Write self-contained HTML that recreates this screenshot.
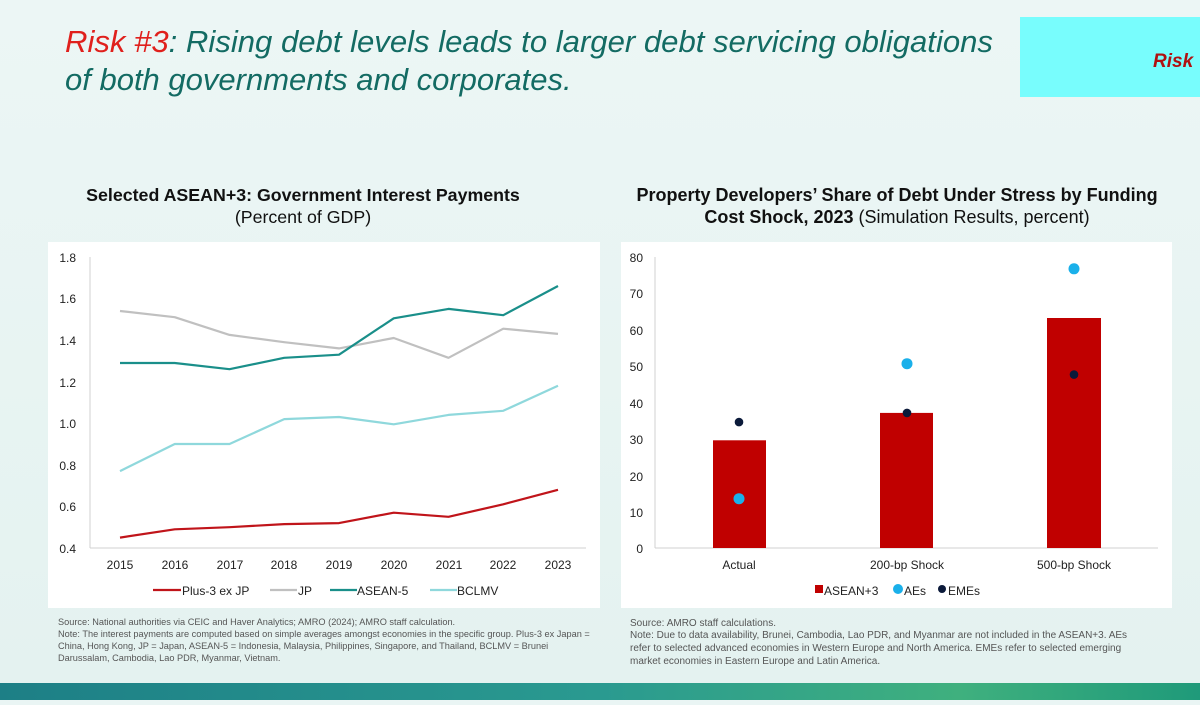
<!DOCTYPE html>
<html><head><meta charset="utf-8"><style>
html,body{margin:0;padding:0}
body{width:1200px;height:700px;overflow:hidden;background:#eaf5f4;font-family:"Liberation Sans",sans-serif}
</style></head><body>
<svg width="1200" height="700" viewBox="0 0 1200 700" xmlns="http://www.w3.org/2000/svg" font-family="Liberation Sans, sans-serif">
<defs>
<linearGradient id="bg" x1="0" y1="0" x2="0" y2="1"><stop offset="0" stop-color="#ecf6f5"/><stop offset="1" stop-color="#e4f2f0"/></linearGradient>
<linearGradient id="strip" x1="0" y1="0" x2="1" y2="0"><stop offset="0" stop-color="#1d7f86"/><stop offset="0.5" stop-color="#2a9a90"/><stop offset="0.8" stop-color="#3fb07e"/><stop offset="1" stop-color="#1f9a7a"/></linearGradient>
</defs>
<rect width="1200" height="700" fill="url(#bg)"/>
<rect x="0" y="683" width="1200" height="17" fill="url(#strip)"/>
<rect x="1020" y="17" width="180" height="80" fill="#78fdfd"/>
<text x="1153" y="67" font-size="19" font-weight="bold" font-style="italic" fill="#b01010">Risk</text>
<text x="65" y="52" font-size="31" font-style="italic" fill="#136b63" textLength="928" lengthAdjust="spacingAndGlyphs"><tspan fill="#e0201c">Risk #3</tspan>: Rising debt levels leads to larger debt servicing obligations</text>
<text x="65" y="90" font-size="31" font-style="italic" fill="#136b63">of both governments and corporates.</text>

<text x="303" y="201" font-size="17.8" font-weight="bold" text-anchor="middle" fill="#111">Selected ASEAN+3: Government Interest Payments</text>
<text x="303" y="223" font-size="17.8" text-anchor="middle" fill="#111">(Percent of GDP)</text>
<text x="897" y="201" font-size="18" font-weight="bold" text-anchor="middle" fill="#111">Property Developers’ Share of Debt Under Stress by Funding</text>
<text x="897" y="223" font-size="18" text-anchor="middle" fill="#111"><tspan font-weight="bold">Cost Shock, 2023</tspan> (Simulation Results, percent)</text>

<rect x="48" y="242" width="552" height="366" fill="#fff"/>
<rect x="621" y="242" width="551" height="366" fill="#fff"/>

<g font-size="12" fill="#222">
<line x1="90" y1="257" x2="90" y2="548" stroke="#d0d0d0"/>
<line x1="90" y1="548" x2="586" y2="548" stroke="#d0d0d0"/>
<g text-anchor="end">
<text x="76" y="262">1.8</text><text x="76" y="303">1.6</text><text x="76" y="345">1.4</text><text x="76" y="387">1.2</text><text x="76" y="428">1.0</text><text x="76" y="470">0.8</text><text x="76" y="511">0.6</text><text x="76" y="553">0.4</text>
</g>
<g text-anchor="middle">
<text x="120" y="569">2015</text><text x="175" y="569">2016</text><text x="230" y="569">2017</text><text x="284" y="569">2018</text><text x="339" y="569">2019</text><text x="394" y="569">2020</text><text x="449" y="569">2021</text><text x="503" y="569">2022</text><text x="558" y="569">2023</text>
</g>
</g>
<g fill="none" stroke-width="2.2" stroke-linejoin="round">
<polyline stroke="#c0c0c0" points="120,311 174.75,317.2 229.5,334.9 284.25,342.2 339,348.4 393.75,338 448.5,357.8 503.25,328.7 558,333.9"/>
<polyline stroke="#1a8f8a" points="120,363 174.75,363 229.5,369.2 284.25,357.8 339,354.7 393.75,318.3 448.5,308.9 503.25,315.2 558,286"/>
<polyline stroke="#8fd8dc" points="120,471.1 174.75,444 229.5,444 284.25,419.1 339,417 393.75,424.3 448.5,414.9 503.25,410.8 558,385.8"/>
<polyline stroke="#c0141a" points="120,537.6 174.75,529.3 229.5,527.2 284.25,524.1 339,523.1 393.75,512.7 448.5,516.8 503.25,504.3 558,489.8"/>
</g>
<g font-size="12" fill="#222">
<line x1="153" y1="590" x2="181" y2="590" stroke="#c0141a" stroke-width="2.2"/><text x="182" y="595">Plus-3 ex JP</text>
<line x1="270" y1="590" x2="297" y2="590" stroke="#c0c0c0" stroke-width="2.2"/><text x="298" y="595">JP</text>
<line x1="330" y1="590" x2="357" y2="590" stroke="#1a8f8a" stroke-width="2.2"/><text x="357" y="595">ASEAN-5</text>
<line x1="430" y1="590" x2="457" y2="590" stroke="#8fd8dc" stroke-width="2.2"/><text x="457" y="595">BCLMV</text>
</g>

<g font-size="12" fill="#222">
<line x1="655" y1="257" x2="655" y2="548" stroke="#d0d0d0"/>
<line x1="655" y1="548" x2="1158" y2="548" stroke="#d0d0d0"/>
<g text-anchor="end">
<text x="643" y="262">80</text><text x="643" y="298">70</text><text x="643" y="335">60</text><text x="643" y="371">50</text><text x="643" y="408">40</text><text x="643" y="444">30</text><text x="643" y="481">20</text><text x="643" y="517">10</text><text x="643" y="553">0</text>
</g>
<rect x="713" y="440.3" width="53" height="107.7" fill="#c00000"/>
<rect x="880" y="412.9" width="53" height="135.1" fill="#c00000"/>
<rect x="1047" y="318" width="54" height="230" fill="#c00000"/>
<circle cx="739" cy="498.7" r="5.5" fill="#1ab0ea"/>
<circle cx="907" cy="363.7" r="5.5" fill="#1ab0ea"/>
<circle cx="1074" cy="268.8" r="5.5" fill="#1ab0ea"/>
<circle cx="739" cy="422.1" r="4.3" fill="#0b1a3a"/>
<circle cx="907" cy="412.9" r="4.3" fill="#0b1a3a"/>
<circle cx="1074" cy="374.6" r="4.3" fill="#0b1a3a"/>
<g text-anchor="middle">
<text x="739" y="569">Actual</text><text x="907" y="569">200-bp Shock</text><text x="1074" y="569">500-bp Shock</text>
</g>
<rect x="815" y="585" width="8" height="8" fill="#c00000"/><text x="824" y="595">ASEAN+3</text>
<circle cx="898" cy="589" r="5" fill="#1ab0ea"/><text x="904" y="595">AEs</text>
<circle cx="942" cy="589" r="4" fill="#0b1a3a"/><text x="948" y="595">EMEs</text>
</g>

<g font-size="9.2" fill="#555">
<text x="58" y="625">Source: National authorities via CEIC and Haver Analytics; AMRO (2024); AMRO staff calculation.</text>
<text x="58" y="637">Note: The interest payments are computed based on simple averages amongst economies in the specific group. Plus-3 ex Japan =</text>
<text x="58" y="649">China, Hong Kong, JP = Japan, ASEAN-5 = Indonesia, Malaysia, Philippines, Singapore, and Thailand, BCLMV = Brunei</text>
<text x="58" y="661">Darussalam, Cambodia, Lao PDR, Myanmar, Vietnam.</text>
</g>
<g font-size="10" fill="#555">
<text x="630" y="626">Source: AMRO staff calculations.</text>
<text x="630" y="638">Note: Due to data availability, Brunei, Cambodia, Lao PDR, and Myanmar are not included in the ASEAN+3. AEs</text>
<text x="630" y="651">refer to selected advanced economies in Western Europe and North America. EMEs refer to selected emerging</text>
<text x="630" y="664">market economies in Eastern Europe and Latin America.</text>
</g>
</svg>
</body></html>
